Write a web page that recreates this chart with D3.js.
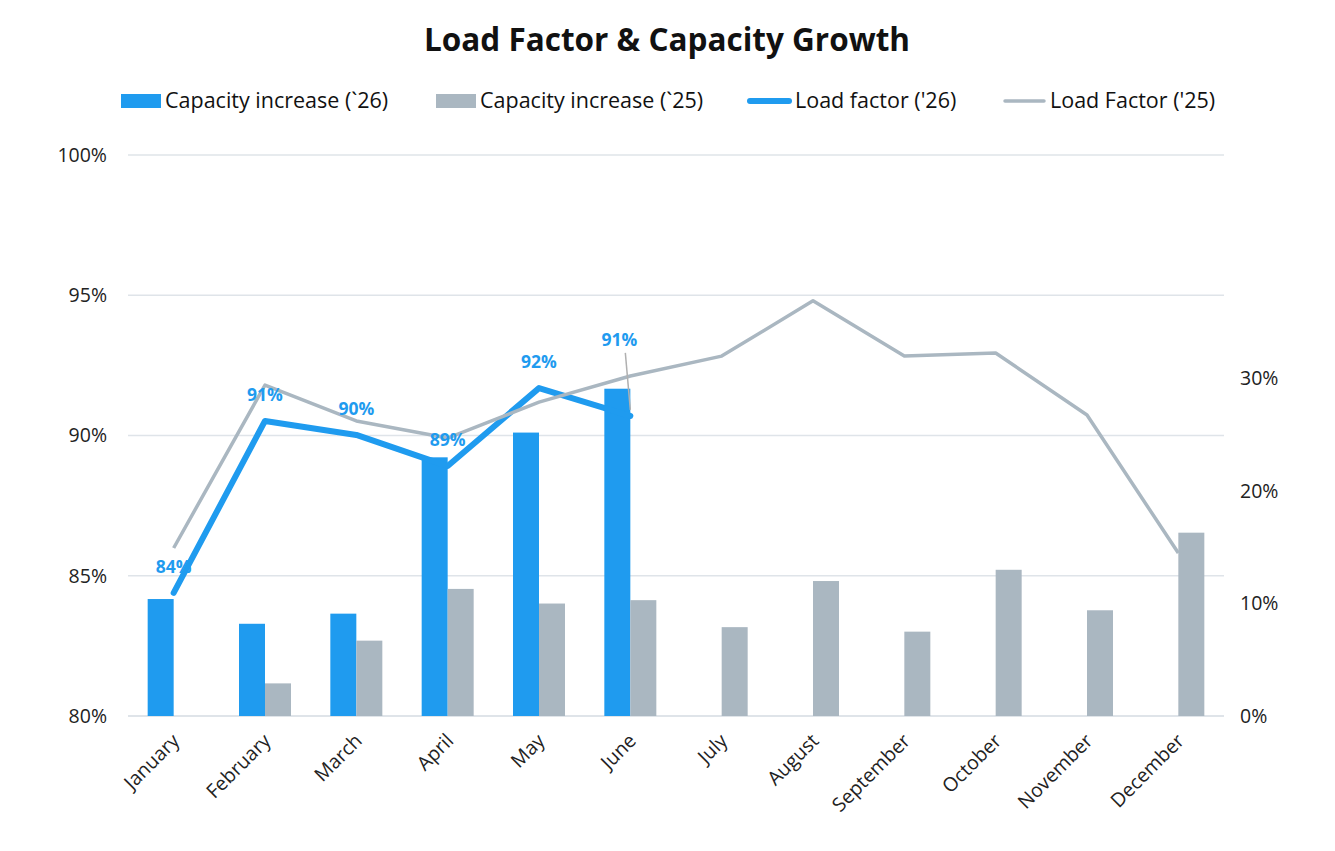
<!DOCTYPE html>
<html>
<head>
<meta charset="utf-8">
<script src="https://cdn.jsdelivr.net/npm/d3@7"></script>
<style>
  body { margin: 0; background: #fff; }
  text { font-family: "Open Sans", "Noto Sans", sans-serif; }
</style>
</head>
<body>
<div id="chart"></div>
<script>
// chart data
var months = ["January", "February", "March", "April", "May", "June", "July", "August", "September", "October", "November", "December"];
var capacity26 = [0.104, 0.082, 0.091, 0.230, 0.252, 0.291, null, null, null, null, null, null];
var capacity25 = [null, 0.029, 0.067, 0.113, 0.100, 0.103, 0.079, 0.120, 0.075, 0.130, 0.094, 0.163];
var loadFactor26 = [0.8439, 0.9052, 0.9002, 0.8891, 0.9169, 0.9070, null, null, null, null, null, null];
var loadFactor25 = [0.8599, 0.9180, 0.9052, 0.8991, 0.9119, 0.9212, 0.9283, 0.9480, 0.9283, 0.9294, 0.9073, 0.8581];
var leftTicks = [0.80, 0.85, 0.90, 0.95, 1.00];
var rightTicks = [0, 0.10, 0.20, 0.30];
var legendLabels = ["Capacity increase (`26)", "Capacity increase (`25)", "Load factor ('26)", "Load Factor ('25)"];

var W = 1335, H = 851;
var plotLeft = 128, plotRight = 1224, plotTop = 155, plotBottom = 716;
var blue = "#1f9bef", gray = "#aab7c1";

var svg = d3.select("#chart").append("svg")
    .attr("width", W)
    .attr("height", H);

var x = d3.scaleBand().domain(months).range([plotLeft, plotRight]);
var yLeft = d3.scaleLinear().domain([0.80, 1.00]).range([plotBottom, plotTop]);
var yRight = d3.scaleLinear().domain([0, 0.4988]).range([plotBottom, plotTop]);
var pct = d3.format(".0%");

// title
svg.append("text")
    .attr("x", 667).attr("y", 51)
    .attr("text-anchor", "middle")
    .style("font-size", "31.5px")
    .style("font-weight", "bold")
    .attr("fill", "#111")
    .text("Load Factor & Capacity Growth");

// gridlines
svg.append("g").selectAll("line")
    .data(leftTicks)
    .enter().append("line")
    .attr("x1", plotLeft).attr("x2", plotRight)
    .attr("y1", function (d) { return yLeft(d); })
    .attr("y2", function (d) { return yLeft(d); })
    .attr("stroke", "#dfe4e9")
    .attr("stroke-width", function (d) { return d == 0.80 ? 2 : 1.5; });

// left axis
var axL = svg.append("g")
    .attr("transform", "translate(" + plotLeft + ",0)")
    .call(d3.axisLeft(yLeft).tickValues(leftTicks).tickFormat(pct).tickSize(0).tickPadding(21));
axL.select(".domain").remove();
axL.selectAll("text").style("font-size", "19.5px").attr("fill", "#222");

// right axis
var axR = svg.append("g")
    .attr("transform", "translate(" + plotRight + ",0)")
    .call(d3.axisRight(yRight).tickValues(rightTicks).tickFormat(pct).tickSize(0).tickPadding(16));
axR.select(".domain").remove();
axR.selectAll("text").style("font-size", "19.5px").attr("fill", "#222");

// x axis labels
var axX = svg.append("g")
    .attr("transform", "translate(0," + plotBottom + ")")
    .call(d3.axisBottom(x).tickSize(0).tickPadding(0));
axX.select(".domain").remove();
axX.selectAll("text")
    .style("font-size", "19.5px")
    .attr("fill", "#222")
    .attr("text-anchor", "end")
    .attr("dy", 0)
    .attr("transform", "translate(7,26) rotate(-45)");

// bars
var barW = 26;
svg.append("g").selectAll("rect")
    .data(months.filter(function (m, i) { return capacity26[i] != null; }))
    .enter().append("rect")
    .attr("fill", blue)
    .attr("x", function (m) { return x(m) + x.bandwidth() / 2 - barW; })
    .attr("width", barW)
    .attr("y", function (m) { return yRight(capacity26[months.indexOf(m)]); })
    .attr("height", function (m) { return plotBottom - yRight(capacity26[months.indexOf(m)]); });

svg.append("g").selectAll("rect")
    .data(months.filter(function (m, i) { return capacity25[i] != null; }))
    .enter().append("rect")
    .attr("fill", gray)
    .attr("x", function (m) { return x(m) + x.bandwidth() / 2; })
    .attr("width", barW)
    .attr("y", function (m) { return yRight(capacity25[months.indexOf(m)]); })
    .attr("height", function (m) { return plotBottom - yRight(capacity25[months.indexOf(m)]); });

// lines
var cx = function (d, i) { return x(months[i]) + x.bandwidth() / 2; };

var line26 = d3.line()
    .defined(function (d) { return d != null; })
    .x(cx)
    .y(function (d) { return yLeft(d); });

var line25 = d3.line()
    .x(cx)
    .y(function (d) { return yLeft(d); });

svg.append("path")
    .datum(loadFactor26)
    .attr("d", line26)
    .attr("fill", "none")
    .attr("stroke", blue)
    .attr("stroke-width", 6)
    .attr("stroke-linecap", "round")
    .attr("stroke-linejoin", "round");

svg.append("path")
    .datum(loadFactor25)
    .attr("d", line25)
    .attr("fill", "none")
    .attr("stroke", gray)
    .attr("stroke-width", 3.5)
    .attr("stroke-linejoin", "round");

// data labels (June label was dragged up with a leader line)
var labelDx = [0, 0, 0, 0, 0, -11, 0, 0, 0, 0, 0, 0];
var labelDy = [-20, -20, -20, -20, -20, -70, 0, 0, 0, 0, 0, 0];

svg.append("line")
    .attr("x1", cx(null, 5) - 5).attr("y1", yLeft(loadFactor26[5]) - 63)
    .attr("x2", cx(null, 5)).attr("y2", yLeft(loadFactor26[5]) - 6)
    .attr("stroke", "#b0b0b0")
    .attr("stroke-width", 1.5);

svg.append("g").selectAll("text")
    .data(loadFactor26.filter(function (d) { return d != null; }))
    .enter().append("text")
    .attr("x", function (d, i) { return cx(d, i) + labelDx[i]; })
    .attr("y", function (d, i) { return yLeft(d) + labelDy[i]; })
    .attr("text-anchor", "middle")
    .style("font-size", "17.5px")
    .style("font-weight", "bold")
    .attr("fill", blue)
    .text(function (d) { return pct(d); });

// legend
var legendX = [121, 436, 747, 1002];
var leg = svg.append("g").attr("transform", "translate(0,101)");
leg.selectAll("g")
    .data(legendLabels)
    .enter().append("g")
    .each(function (d, i) {
        var g = d3.select(this);
        var col = (i % 2 == 0) ? blue : gray;
        if (i < 2) {
            g.append("rect").attr("x", legendX[i]).attr("y", -7).attr("width", 40).attr("height", 14).attr("fill", col);
        } else {
            g.append("line").attr("x1", legendX[i] + 3).attr("x2", legendX[i] + 42)
                .attr("y1", 0).attr("y2", 0)
                .attr("stroke", col)
                .attr("stroke-width", i == 2 ? 6 : 3.5)
                .attr("stroke-linecap", "round");
        }
        g.append("text")
            .attr("x", legendX[i] + (i < 2 ? 44 : 48))
            .attr("y", 7)
            .style("font-size", "21.5px")
            .attr("fill", "#111")
            .text(d);
    });
</script>
</body>
</html>
